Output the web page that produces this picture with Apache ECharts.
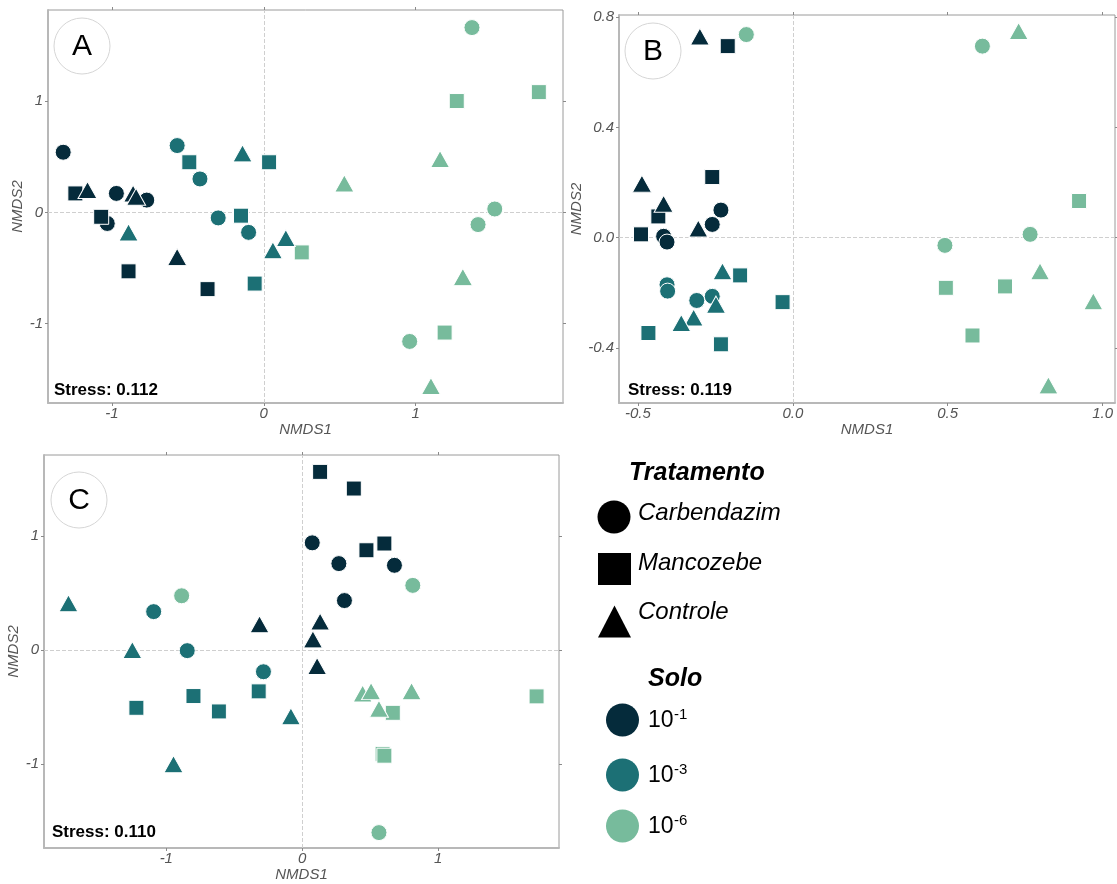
<!DOCTYPE html>
<html><head><meta charset="utf-8">
<script src="https://cdn.jsdelivr.net/npm/echarts@6/dist/echarts.min.js"></script>
<style>html,body{margin:0;padding:0;background:#fff}#c{width:1117px;height:884px}</style>
</head><body><div id="c"></div>
<script>
// ---------- data ----------
const treatments = ['Carbendazim', 'Mancozebe', 'Controle'];
const soloLevels = ['10-1', '10-3', '10-6'];
// rows: [NMDS1, NMDS2, treatment index, solo index]
const nmdsA = [
  [-1.32,0.54,0,0],[-0.97,0.17,0,0],[-0.77,0.11,0,0],[-1.03,-0.10,0,0],
  [-1.24,0.17,1,0],[-1.07,-0.04,1,0],[-0.89,-0.53,1,0],[-0.37,-0.69,1,0],
  [-1.16,0.20,2,0],[-0.86,0.17,2,0],[-0.84,0.14,2,0],[-0.57,-0.40,2,0],
  [-0.57,0.60,0,1],[-0.42,0.30,0,1],[-0.30,-0.05,0,1],[-0.10,-0.18,0,1],
  [-0.49,0.45,1,1],[0.035,0.45,1,1],[-0.15,-0.03,1,1],[-0.06,-0.64,1,1],
  [-0.14,0.53,2,1],[-0.89,-0.18,2,1],[0.06,-0.34,2,1],[0.145,-0.23,2,1],
  [1.37,1.66,0,2],[1.52,0.03,0,2],[1.41,-0.11,0,2],[0.96,-1.16,0,2],
  [1.27,1.00,1,2],[1.81,1.08,1,2],[0.25,-0.36,1,2],[1.19,-1.08,1,2],
  [1.16,0.48,2,2],[0.53,0.26,2,2],[1.31,-0.58,2,2],[1.10,-1.56,2,2]
];
const nmdsB = [
  [-0.232,0.10,0,0],[-0.26,0.048,0,0],[-0.417,0.005,0,0],[-0.406,-0.016,0,0],
  [-0.21,0.695,1,0],[-0.26,0.22,1,0],[-0.434,0.077,1,0],[-0.49,0.012,1,0],
  [-0.30,0.73,2,0],[-0.487,0.196,2,0],[-0.417,0.123,2,0],[-0.305,0.033,2,0],
  [-0.406,-0.171,0,1],[-0.404,-0.194,0,1],[-0.31,-0.228,0,1],[-0.26,-0.213,0,1],
  [-0.17,-0.137,1,1],[-0.033,-0.234,1,1],[-0.466,-0.346,1,1],[-0.232,-0.387,1,1],
  [-0.227,-0.122,2,1],[-0.248,-0.243,2,1],[-0.32,-0.29,2,1],[-0.36,-0.31,2,1],
  [-0.15,0.737,0,2],[0.612,0.695,0,2],[0.491,-0.028,0,2],[0.766,0.012,0,2],
  [0.924,0.133,1,2],[0.494,-0.182,1,2],[0.685,-0.177,1,2],[0.58,-0.355,1,2],
  [0.729,0.75,2,2],[0.798,-0.122,2,2],[0.97,-0.231,2,2],[0.825,-0.536,2,2]
];
const nmdsC = [
  [0.074,0.94,0,0],[0.27,0.758,0,0],[0.679,0.743,0,0],[0.311,0.434,0,0],
  [0.132,1.562,1,0],[0.38,1.416,1,0],[0.473,0.875,1,0],[0.605,0.934,1,0],
  [-0.314,0.226,2,0],[0.132,0.25,2,0],[0.079,0.094,2,0],[0.11,-0.14,2,0],
  [-1.093,0.337,0,1],[-0.846,-0.005,0,1],[-0.285,-0.19,0,1],
  [-1.22,-0.506,1,1],[-0.80,-0.403,1,1],[-0.613,-0.538,1,1],[-0.32,-0.362,1,1],
  [-1.72,0.41,2,1],[-1.25,0.0,2,1],[-0.947,-1.0,2,1],[-0.083,-0.58,2,1],
  [-0.887,0.476,0,2],[0.814,0.567,0,2],[0.565,-1.60,0,2],
  [0.667,-0.55,1,2],[1.725,-0.406,1,2],[0.592,-0.91,1,2],[0.605,-0.926,1,2],
  [0.445,-0.38,2,2],[0.507,-0.36,2,2],[0.805,-0.36,2,2],[0.565,-0.515,2,2]
];
const ticksAx = [-1, 0, 1], ticksAy = [-1, 0, 1];
const ticksBx = [-0.5, 0, 0.5, 1.0], ticksBy = [-0.4, 0, 0.4, 0.8];
const ticksCx = [-1, 0, 1], ticksCy = [-1, 0, 1];
const stressLabels = ['Stress: 0.112', 'Stress: 0.119', 'Stress: 0.110'];
const panelLetters = ['A', 'B', 'C'];

// ---------- style ----------
const soloColors = ['#052b3b', '#1c7075', '#77bb9c'];
const symbols = ['circle', 'rect', 'triangle'];
const symSizes = [16, 15, [19, 17]];
const FONT = 'Liberation Sans, Arial, sans-serif';
const axisTxt = { color: '#555', fontStyle: 'italic', fontSize: 15, fontFamily: FONT };

const panels = [
  { data: nmdsA, grid: { left: 48, top: 10, width: 515, height: 393 }, x: [-1.42, 1.969], y: [-1.713, 1.818],
    tx: ticksAx, ty: ticksAy, fmt: v => String(v), yGap: 20, letter: [82, 46], stress: [54, 390] },
  { data: nmdsB, grid: { left: 619, top: 15, width: 496, height: 388 }, x: [-0.561, 1.04], y: [-0.600, 0.808],
    tx: ticksBx, ty: ticksBy, fmt: v => v.toFixed(1), yGap: 32, letter: [653, 51], stress: [628, 390] },
  { data: nmdsC, grid: { left: 44, top: 455, width: 515, height: 393 }, x: [-1.90, 1.89], y: [-1.735, 1.71],
    tx: ticksCx, ty: ticksCy, fmt: v => String(v), yGap: 22, letter: [79, 500], stress: [52, 832] }
];

const grids = [], xAxes = [], yAxes = [], series = [], graphics = [];
panels.forEach((p, g) => {
  grids.push(Object.assign({ show: true, borderColor: '#9a9a9a', borderWidth: 1, backgroundColor: '#fff' }, p.grid));
  const tick = vals => ({ show: true, customValues: vals, length: 3, lineStyle: { color: '#8a8a8a' } });
  const mainLine = { show: true, onZero: false, lineStyle: { color: '#b8b8b8', width: 2 } };
  xAxes.push({
    type: 'value', gridIndex: g, position: 'bottom', min: p.x[0], max: p.x[1],
    name: 'NMDS1', nameLocation: 'middle', nameGap: 17, nameTextStyle: axisTxt,
    axisLine: mainLine, axisTick: tick(p.tx),
    axisLabel: Object.assign({ customValues: p.tx, formatter: p.fmt, margin: 3 }, axisTxt),
    splitLine: { show: false }
  });
  xAxes.push({
    type: 'value', gridIndex: g, position: 'top', min: p.x[0], max: p.x[1],
    axisLine: { show: false, onZero: false }, axisTick: tick(p.tx), axisLabel: { show: false }, splitLine: { show: false }
  });
  yAxes.push({
    type: 'value', gridIndex: g, position: 'left', min: p.y[0], max: p.y[1],
    name: 'NMDS2', nameLocation: 'middle', nameGap: p.yGap, nameTextStyle: axisTxt,
    axisLine: mainLine, axisTick: tick(p.ty),
    axisLabel: Object.assign({ customValues: p.ty, formatter: p.fmt, margin: 5 }, axisTxt),
    splitLine: { show: false }
  });
  yAxes.push({
    type: 'value', gridIndex: g, position: 'right', min: p.y[0], max: p.y[1],
    axisLine: { show: false, onZero: false }, axisTick: tick(p.ty), axisLabel: { show: false }, splitLine: { show: false }
  });
  // zero reference lines (under the points)
  series.push({
    type: 'scatter', xAxisIndex: 2 * g, yAxisIndex: 2 * g, data: [], z: 1, silent: true,
    markLine: {
      z: 1, silent: true, symbol: ['none', 'none'], label: { show: false },
      lineStyle: { type: 'dashed', color: '#cfcfcf', width: 1 },
      data: [{ xAxis: 0 }, { yAxis: 0 }]
    }
  });
  treatments.forEach((tName, t) => {
    soloLevels.forEach((sName, s) => {
      series.push({
        type: 'scatter', name: tName + ' ' + sName, xAxisIndex: 2 * g, yAxisIndex: 2 * g, z: 6,
        symbol: symbols[t], symbolSize: symSizes[t],
        itemStyle: { color: soloColors[s], borderColor: '#fff', borderWidth: 1, opacity: 1 },
        data: p.data.filter(r => r[2] === t && r[3] === s).map(r => [r[0], r[1]])
      });
    });
  });
  // panel letter
  graphics.push({ type: 'circle', shape: { cx: p.letter[0], cy: p.letter[1], r: 28 },
    style: { fill: '#fff', stroke: '#d6d6d6', lineWidth: 1 }, z: 10 });
  graphics.push({ type: 'text', z: 11, style: { text: panelLetters[g], x: p.letter[0], y: p.letter[1] + 1,
    font: '30px ' + FONT, fill: '#000', align: 'center', verticalAlign: 'middle', textAlign: 'center', textVerticalAlign: 'middle' } });
  graphics.push({ type: 'text', z: 11, style: { text: stressLabels[g], x: p.stress[0], y: p.stress[1],
    font: 'bold 17px ' + FONT, fill: '#000', align: 'left', verticalAlign: 'middle', textAlign: 'left', textVerticalAlign: 'middle' } });
});

// ---------- legend (custom) ----------
function txt(text, x, y, font) {
  return { type: 'text', z: 11, style: { text, x, y, font, fill: '#000', align: 'left', verticalAlign: 'middle', textAlign: 'left', textVerticalAlign: 'middle' } };
}
graphics.push(txt('Tratamento', 629, 473, 'italic bold 25px ' + FONT));
graphics.push({ type: 'circle', shape: { cx: 614, cy: 517, r: 16.5 }, style: { fill: '#000' } });
graphics.push(txt(treatments[0], 638, 513, 'italic 24px ' + FONT));
graphics.push({ type: 'rect', shape: { x: 598, y: 553, width: 33, height: 32 }, style: { fill: '#000' } });
graphics.push(txt(treatments[1], 638, 563, 'italic 24px ' + FONT));
graphics.push({ type: 'polygon', shape: { points: [[614.5, 605.5], [631, 637.5], [598, 637.5]] }, style: { fill: '#000' } });
graphics.push(txt(treatments[2], 638, 612, 'italic 24px ' + FONT));
graphics.push(txt('Solo', 648, 679, 'italic bold 25px ' + FONT));
const soloLegendY = [720, 775, 826];
const soloSup = ['-1', '-3', '-6'];
soloLegendY.forEach((yy, i) => {
  graphics.push({ type: 'circle', shape: { cx: 622.5, cy: yy, r: 16.5 }, style: { fill: soloColors[i] } });
  graphics.push(txt('10', 648, yy + 1, '23px ' + FONT));
  graphics.push(txt(soloSup[i], 674, yy - 5, '15px ' + FONT));
});

const chart = echarts.init(document.getElementById('c'), null, { renderer: 'canvas' });
chart.setOption({
  animation: false,
  backgroundColor: '#fff',
  grid: grids, xAxis: xAxes, yAxis: yAxes, series: series,
  graphic: { elements: graphics }
});
</script>
</body></html>
